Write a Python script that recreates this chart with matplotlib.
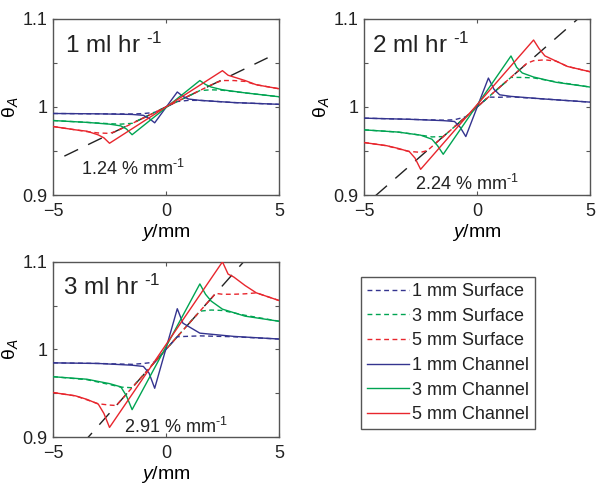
import numpy as np
import matplotlib
matplotlib.use('Agg')
import matplotlib.pyplot as plt

plt.rcParams['font.family'] = ['Liberation Sans', 'DejaVu Sans']
plt.rcParams['mathtext.fontset'] = 'custom'
plt.rcParams['mathtext.rm'] = 'Liberation Sans'
plt.rcParams['mathtext.it'] = 'Liberation Sans:italic'
plt.rcParams['text.color'] = '#222222'

# flow rates and fitted gradients (% per mm)
flow_rates = [1, 2, 3]
slopes = [1.24, 2.24, 2.91]

# channel widths and their colours
widths = [1, 3, 5]
colors = ['#34348f', '#00a452', '#e8262d']

# y positions (mm) where the channel profiles were read
y_ch_1 = [-5, -3, -1.5, -1, -0.75, -0.5, 0.5, 0.75, 1, 1.5, 3, 5]
y_ch_3 = [-5, -3.5, -2.5, -2, -1.75, -1.5, 1.5, 1.75, 2, 2.5, 3.5, 5]
y_ch_5 = [-5, -4, -3.5, -3, -2.75, -2.5, 2.5, 2.75, 3, 3.5, 4, 5]

# y positions (mm) for the surface profiles
y_sf_1 = [-5, -3, -1.5, -1, -0.5, 0.5, 1, 1.5, 3, 5]
y_sf_3 = [-5, -3.5, -2.5, -2, -1.5, 1.5, 2, 2.5, 3.5, 5]
y_sf_5 = [-5, -4, -3.5, -3, -2.5, -2.2, 2.2, 2.5, 3, 3.5, 4, 5]

# deviation of theta_A from 1, in percent -- 1 ml/hr
ch_1mm_q1 = [-0.74, -0.78, -0.85, -0.95, -1.3, -1.8, 1.7, 1.2, 0.9, 0.75, 0.5, 0.3]
ch_3mm_q1 = [-1.54, -1.75, -1.95, -2.15, -2.5, -3.15, 3.0, 2.55, 2.26, 1.95, 1.6, 1.16]
ch_5mm_q1 = [-2.22, -2.6, -2.75, -3.17, -3.5, -4.12, 4.12, 3.6, 3.4, 3.0, 2.52, 2.07]
sf_1mm_q1 = [-0.74, -0.78, -0.8, -0.75, -0.62, 0.62, 0.75, 0.75, 0.5, 0.3]
sf_3mm_q1 = [-1.54, -1.75, -1.9, -1.95, -1.86, 1.86, 1.95, 1.9, 1.6, 1.16]
sf_5mm_q1 = [-2.22, -2.6, -2.8, -2.95, -3.0, -2.75, 2.75, 3.0, 3.0, 2.9, 2.52, 2.07]

# 2 ml/hr
ch_1mm_q2 = [-1.27, -1.4, -1.55, -1.65, -2.3, -3.36, 3.28, 2.0, 1.38, 1.2, 0.9, 0.55]
ch_3mm_q2 = [-2.6, -2.85, -3.2, -3.66, -4.4, -5.37, 5.79, 4.5, 3.86, 3.4, 2.8, 2.26]
ch_5mm_q2 = [-4.04, -4.4, -4.7, -5.07, -5.8, -7.08, 7.6, 6.6, 5.8, 5.2, 4.6, 4.0]
sf_1mm_q2 = [-1.27, -1.4, -1.5, -1.45, -1.12, 1.12, 1.1, 1.15, 0.9, 0.55]
sf_3mm_q2 = [-2.6, -2.85, -3.2, -3.4, -3.36, 3.36, 3.35, 3.3, 2.85, 2.26]
sf_5mm_q2 = [-4.04, -4.4, -4.75, -5.05, -5.15, -4.95, 4.95, 5.25, 5.35, 5.2, 4.6, 4.0]

# 3 ml/hr
ch_1mm_q3 = [-1.53, -1.6, -1.8, -1.94, -2.7, -4.43, 4.65, 3.0, 2.62, 1.86, 1.49, 1.19]
ch_3mm_q3 = [-3.11, -3.4, -3.9, -4.27, -5.3, -6.87, 7.48, 6.3, 5.52, 4.6, 3.8, 3.22]
ch_5mm_q3 = [-4.92, -5.3, -5.7, -6.23, -7.3, -8.9, 10.0, 8.6, 8.27, 7.3, 6.46, 5.59]
sf_1mm_q3 = [-1.53, -1.6, -1.7, -1.6, -1.45, 1.45, 1.5, 1.55, 1.45, 1.19]
sf_3mm_q3 = [-3.11, -3.45, -4.0, -4.3, -4.37, 4.37, 4.5, 4.45, 3.9, 3.22]
sf_5mm_q3 = [-4.92, -5.3, -5.75, -6.2, -6.35, -6.4, 6.4, 6.3, 6.3, 6.35, 6.46, 5.59]

channel = [[ch_1mm_q1, ch_3mm_q1, ch_5mm_q1],
           [ch_1mm_q2, ch_3mm_q2, ch_5mm_q2],
           [ch_1mm_q3, ch_3mm_q3, ch_5mm_q3]]
surface = [[sf_1mm_q1, sf_3mm_q1, sf_5mm_q1],
           [sf_1mm_q2, sf_3mm_q2, sf_5mm_q2],
           [sf_1mm_q3, sf_3mm_q3, sf_5mm_q3]]
y_ch = [y_ch_1, y_ch_3, y_ch_5]
y_sf = [y_sf_1, y_sf_3, y_sf_5]

# range over which the linear fit is drawn (mm)
fit_range = np.array([-4.5, 4.5])

# (left, bottom, width, height) and title position of each panel
panels = [([0.089, 0.597, 0.379, 0.364], (0.053, 0.805)),
          ([0.611, 0.597, 0.379, 0.364], (0.035, 0.805)),
          ([0.089, 0.097, 0.379, 0.362], (0.044, 0.814))]
label_pos = [(-3.75, 0.930), (-2.77, 0.913), (-1.87, 0.912)]

spine_col = '#555555'
fig = plt.figure(figsize=(5.96, 4.84), dpi=100)

handles = []
for i, (rect, tpos) in enumerate(panels):
    ax = fig.add_axes(rect)
    ax.plot(fit_range, 1 + slopes[i] / 100 * fit_range, color='#222222', lw=1.0,
            dashes=(11, 8), zorder=1)
    hs, hc = [], []
    for j in range(3):
        l, = ax.plot(y_sf[j], 1 + np.array(surface[i][j]) / 100, color=colors[j],
                     lw=1.0, dashes=(3.5, 2.5), zorder=2,
                     label='%d mm Surface' % widths[j])
        hs.append(l)
    for j in range(3):
        l, = ax.plot(y_ch[j], 1 + np.array(channel[i][j]) / 100, color=colors[j],
                     lw=1.0, zorder=3, label='%d mm Channel' % widths[j])
        hc.append(l)
    if i == 0:
        handles = hs + hc

    ax.set_xlim(-5, 5)
    ax.set_ylim(0.9, 1.1)
    ax.set_xticks([-5, 0, 5])
    ax.set_yticks([0.9, 0.95, 1, 1.05, 1.1])
    ax.set_yticklabels(['0.9', '', '1', '', '1.1'])
    ax.tick_params(direction='in', length=3, width=0.8, color=spine_col,
                   labelsize=13, labelcolor='#222222', top=True, right=True)
    ax.tick_params(axis='x', pad=6)
    ax.tick_params(axis='y', pad=4)
    for s in ax.spines.values():
        s.set_color(spine_col)
        s.set_linewidth(1.0)
    ax.set_xlabel(r'$\mathit{y}$/mm', fontsize=14, labelpad=1)
    ax.set_ylabel(r'$\mathrm{θ}_{\mathit{A}}$', fontsize=14, labelpad=2)
    ax.text(tpos[0], tpos[1], '%d ml hr $^{‐1}$' % flow_rates[i],
            transform=ax.transAxes, fontsize=17.5, va='baseline', ha='left')
    ax.text(label_pos[i][0], label_pos[i][1], '%.2f %% mm$^{‐1}$' % slopes[i],
            fontsize=13, va='center', ha='left')

leg = fig.legend(handles=handles, loc='upper left',
                 bbox_to_anchor=(0.606, 0.428), fontsize=13, frameon=True,
                 fancybox=False, edgecolor=spine_col, framealpha=1,
                 borderaxespad=0, handlelength=2.3, handletextpad=0.15,
                 labelspacing=0.42, borderpad=0.35)
leg.get_frame().set_linewidth(1.0)

fig.savefig('out.png', dpi=100)
